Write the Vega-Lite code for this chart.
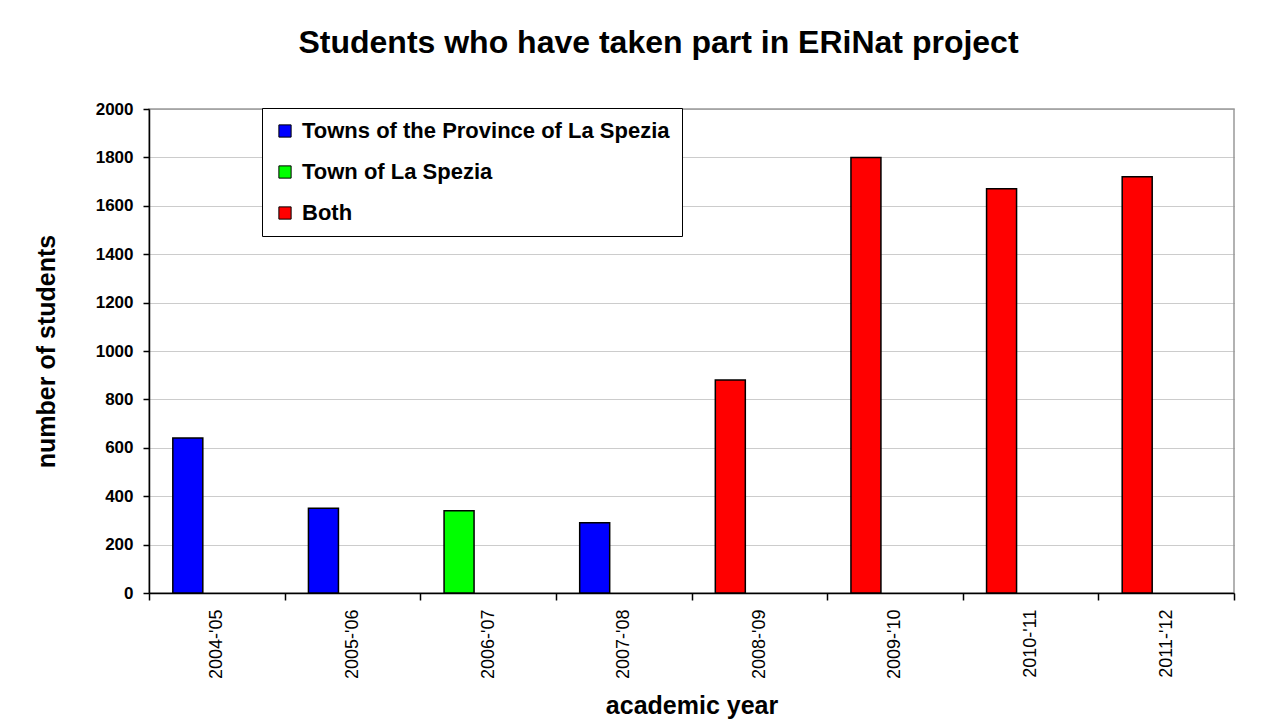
{
  "$schema": "https://vega.github.io/schema/vega-lite/v6.json",
  "autosize": {"type": "none"},
  "padding": {"left": 149, "top": 109, "right": 39, "bottom": 128},
  "width": 1085,
  "height": 484,
  "background": "white",
  "title": {
    "text": "Students who have taken part in ERiNat project",
    "font": "Liberation Sans",
    "fontSize": 32,
    "fontWeight": "bold",
    "color": "black",
    "offset": 40,
    "dx": -33
  },
  "data": {
    "values": [
      {"year": "2004-'05", "students": 640, "area": "Towns of the Province of La Spezia"},
      {"year": "2005-'06", "students": 350, "area": "Towns of the Province of La Spezia"},
      {"year": "2006-'07", "students": 340, "area": "Town of La Spezia"},
      {"year": "2007-'08", "students": 290, "area": "Towns of the Province of La Spezia"},
      {"year": "2008-'09", "students": 880, "area": "Both"},
      {"year": "2009-'10", "students": 1800, "area": "Both"},
      {"year": "2010-'11", "students": 1670, "area": "Both"},
      {"year": "2011-'12", "students": 1720, "area": "Both"}
    ]
  },
  "mark": {"type": "bar", "width": 30, "xOffset": -29, "stroke": "black", "strokeWidth": 1.5},
  "encoding": {
    "x": {
      "field": "year",
      "type": "nominal",
      "sort": null,
      "scale": {"paddingInner": 0, "paddingOuter": 0},
      "axis": {
        "title": "academic year",
        "titleFont": "Liberation Sans",
        "titleFontSize": 25,
        "titleFontWeight": "bold",
        "titleColor": "black",
        "titlePadding": 15,
        "labelAngle": -90,
        "labelAlign": "right",
        "labelBaseline": "middle",
        "labelFont": "Liberation Sans",
        "labelFontSize": 18,
        "labelFontWeight": "normal",
        "labelColor": "black",
        "labelPadding": 9,
        "tickBand": "extent",
        "tickSize": 7,
        "tickColor": "black",
        "tickWidth": 1.5,
        "domainColor": "black",
        "domainWidth": 1.5,
        "grid": false
      }
    },
    "y": {
      "field": "students",
      "type": "quantitative",
      "scale": {"domain": [0, 2000], "nice": false},
      "axis": {
        "title": "number of students",
        "titleFont": "Liberation Sans",
        "titleFontSize": 25,
        "titleFontWeight": "bold",
        "titleColor": "black",
        "titlePadding": 36,
        "format": "d",
        "values": [0, 200, 400, 600, 800, 1000, 1200, 1400, 1600, 1800, 2000],
        "labelFont": "Liberation Sans",
        "labelFontSize": 17,
        "labelFontWeight": "bold",
        "labelColor": "black",
        "labelPadding": 10,
        "tickSize": 6,
        "tickColor": "black",
        "tickWidth": 1.5,
        "domainColor": "black",
        "domainWidth": 1.5,
        "grid": true,
        "gridColor": "#999999",
        "gridDash": [1, 1],
        "gridWidth": 1
      }
    },
    "color": {
      "field": "area",
      "type": "nominal",
      "scale": {
        "domain": ["Towns of the Province of La Spezia", "Town of La Spezia", "Both"],
        "range": ["#0000FF", "#00FF00", "#FF0000"]
      },
      "legend": {
        "title": null,
        "orient": "none",
        "legendX": 113,
        "legendY": -1,
        "fillColor": "white",
        "strokeColor": "black",
        "padding": 12,
        "symbolType": "square",
        "symbolSize": 150,
        "symbolStrokeColor": "black",
        "symbolStrokeWidth": 1,
        "symbolOpacity": 1,
        "labelFont": "Liberation Sans",
        "labelFontSize": 22,
        "labelFontWeight": "bold",
        "labelColor": "black",
        "labelLimit": 600,
        "rowPadding": 19,
        "labelOffset": 6
      }
    }
  },
  "config": {
    "view": {"stroke": "#999999", "strokeWidth": 1.5}
  }
}
